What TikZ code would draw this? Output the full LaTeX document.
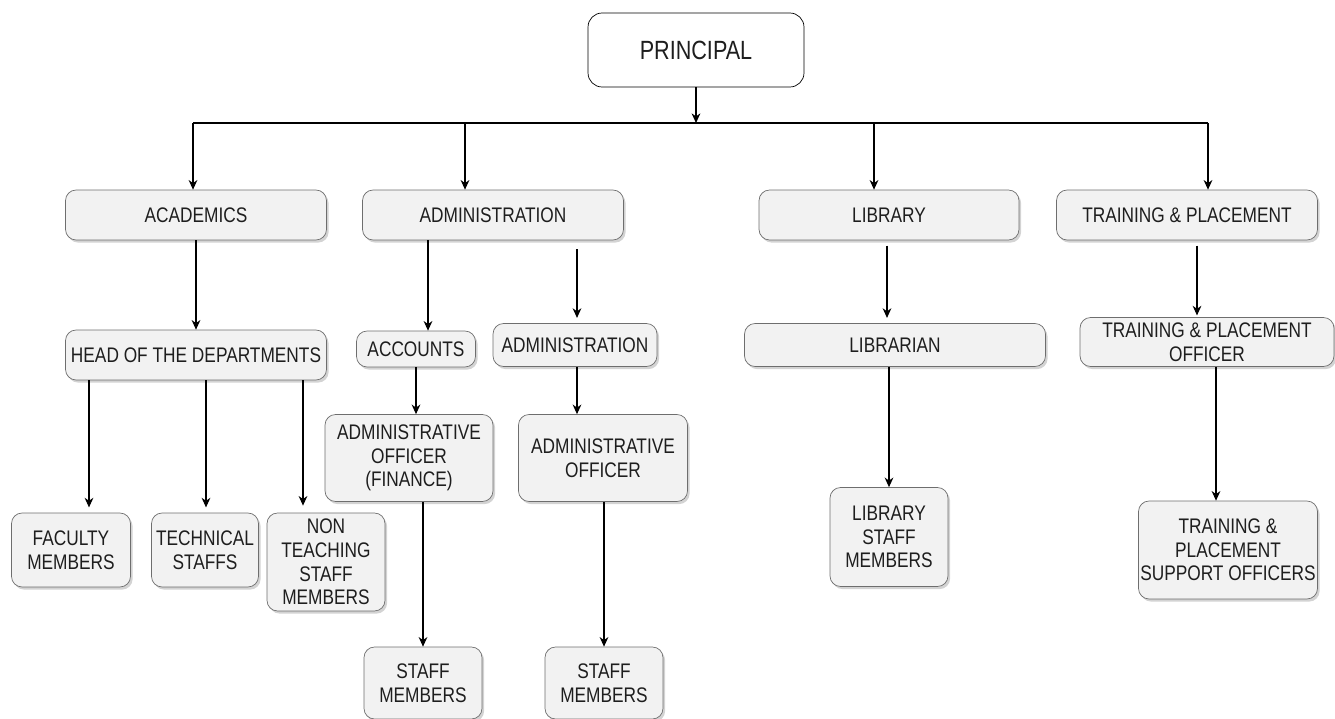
\documentclass[tikz,border=0pt]{standalone}
\usepackage{fontspec}
\setmainfont[FakeStretch=0.82]{Liberation Sans}
\usetikzlibrary{arrows.meta,shadows}
\definecolor{boxfill}{RGB}{242, 242, 242}
\definecolor{boxline}{RGB}{110, 110, 110}
\definecolor{boxtext}{RGB}{30, 30, 30}

\begin{document}
\begin{tikzpicture}[x=0.02cm, y=-0.02cm,
      box/.style={draw=boxline, fill=boxfill, rounded corners=6pt, align=center, inner sep=1pt,
        text=boxtext, font=\fontsize{12}{13.4}\selectfont,
        drop shadow={shadow xshift=1.2pt, shadow yshift=-1.5pt, opacity=0.35}},
      head/.style={draw=black, fill=white, rounded corners=8pt, align=center,
        text=boxtext, font=\fontsize{15}{17}\selectfont},
      arrow/.style={-{Stealth[length=5.5pt, width=5pt]}, black, line width=0.6pt}
    ]
      \useasboundingbox (0,0) rectangle (1335,719);

      % Principal
      \node[head, minimum width=4.32cm, minimum height=1.48cm] (principal) at (696,50) {PRINCIPAL};

      % Departments
      \node[box, minimum width=5.22cm, minimum height=1cm] (acad) at (196,215) {ACADEMICS};
      \node[box, minimum width=5.22cm, minimum height=1cm] (admin) at (493,215) {ADMINISTRATION};
      \node[box, minimum width=5.2cm, minimum height=1cm] (library) at (889,215) {LIBRARY};
      \node[box, minimum width=5.22cm, minimum height=1cm] (tp) at (1187,215) {TRAINING \& PLACEMENT};

      % Second level
      \node[box, minimum width=5.22cm, minimum height=1cm] (hod) at (196,355) {HEAD OF THE DEPARTMENTS};
      \node[box, minimum width=2.38cm, minimum height=0.72cm] (accounts) at (416,349) {ACCOUNTS};
      \node[box, minimum width=3.28cm, minimum height=0.86cm] (admin2) at (575,345) {ADMINISTRATION};
      \node[box, minimum width=6.02cm, minimum height=0.86cm] (librarian) at (895,345) {LIBRARIAN};
      \node[box, minimum width=5.08cm, minimum height=0.98cm] (tpo) at (1207,342) {TRAINING \& PLACEMENT\\OFFICER};

      % Third level
      \node[box, minimum width=2.38cm, minimum height=1.48cm] (faculty) at (71,550) {FACULTY\\MEMBERS};
      \node[box, minimum width=2.14cm, minimum height=1.48cm] (tech) at (205,550) {TECHNICAL\\STAFFS};
      \node[box, minimum width=2.36cm, minimum height=1.96cm] (nonteach) at (326,562) {NON\\TEACHING\\STAFF\\MEMBERS};
      \node[box, minimum width=3.36cm, minimum height=1.74cm] (aof) at (409,458) {ADMINISTRATIVE\\OFFICER\\(FINANCE)};
      \node[box, minimum width=3.38cm, minimum height=1.74cm] (ao) at (603,458) {ADMINISTRATIVE\\OFFICER};
      \node[box, minimum width=2.36cm, minimum height=1.98cm] (libstaff) at (889,537) {LIBRARY\\STAFF\\MEMBERS};
      \node[box, minimum width=3.1cm, minimum height=1.96cm] (tpsupport) at (1228,550) {TRAINING \&\\PLACEMENT\\SUPPORT OFFICERS};

      % Staff
      \node[box, minimum width=2.36cm, minimum height=1.44cm] (staff1) at (423,683) {STAFF\\MEMBERS};
      \node[box, minimum width=2.36cm, minimum height=1.44cm] (staff2) at (604,683) {STAFF\\MEMBERS};

      % Bus
      \coordinate (bus) at (696,123);
      \coordinate (c1) at (193,123);
      \coordinate (c2) at (465,123);
      \coordinate (c3) at (874,123);
      \coordinate (c4) at (1208,123);
      \coordinate (x1) at (428,0);
      \coordinate (x2) at (577,0);
      \coordinate (x3) at (89,0);
      \coordinate (x4) at (206,0);
      \coordinate (x5) at (303,0);
      \coordinate (x6) at (1197,0);
      \coordinate (x7) at (1216,0);
      \coordinate (x8) at (887,0);

      % Arrows
      \draw[arrow] (principal) -- (bus);
      \draw[black, line width=0.6pt] (c1) -- (c4);
      \draw[arrow] (c1) -- (acad.north -| c1);
      \draw[arrow] (c2) -- (admin.north -| c2);
      \draw[arrow] (c3) -- (library.north -| c3);
      \draw[arrow] (c4) -- (tp.north -| c4);

      \draw[arrow] (acad) -- (hod);
      \draw[arrow] (admin.south -| x1) -- (accounts.north -| x1);
      \draw[arrow, shorten <=5pt, shorten >=3pt] (admin.south -| x2) -- (admin2.north -| x2);
      \draw[arrow, shorten <=3pt, shorten >=3pt] (library.south -| x8) -- (librarian.north -| x8);
      \draw[arrow, shorten <=3pt, shorten >=1pt] (tp.south -| x6) -- (tpo.north -| x6);

      \draw[arrow, shorten >=3pt] (hod.south -| x3) -- (faculty.north -| x3);
      \draw[arrow, shorten >=3pt] (hod.south -| x4) -- (tech.north -| x4);
      \draw[arrow, shorten >=4pt] (hod.south -| x5) -- (nonteach.north -| x5);
      \draw[arrow] (accounts.south) -- (aof.north -| accounts);
      \draw[arrow] (admin2.south -| x2) -- (ao.north -| x2);
      \draw[arrow] (aof.south -| staff1) -- (staff1);
      \draw[arrow] (ao.south -| staff2) -- (staff2);
      \draw[arrow] (librarian.south -| libstaff) -- (libstaff);
      \draw[arrow] (tpo.south -| x7) -- (tpsupport.north -| x7);
    \end{tikzpicture}
\end{document}
